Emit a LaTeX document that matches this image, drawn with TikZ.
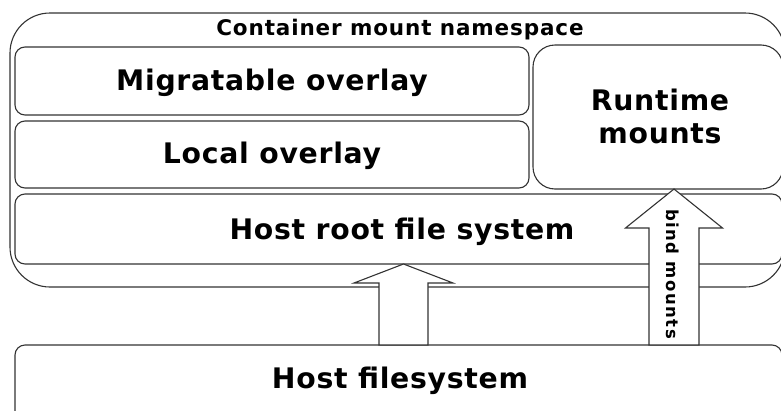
\documentclass[tikz,border=0pt]{standalone}
\usepackage{fontspec}
\setmainfont{DejaVu Sans}
\usetikzlibrary{calc}
\begin{document}
\begin{tikzpicture}[x=1pt,y=-1pt,
  boxline/.style={draw=black!80,line width=1.1pt,fill=white,inner sep=0pt,outer sep=0pt,anchor=north west},
  bigtxt/.style={font=\fontsize{28.3}{33}\selectfont\bfseries\addfontfeature{LetterSpace=2.5},inner sep=0pt,anchor=base,align=center},
  midtxt/.style={font=\fontsize{21.5}{24}\selectfont\bfseries\addfontfeature{LetterSpace=4},inner sep=0pt,anchor=base},
  smalltxt/.style={font=\fontsize{16.5}{18}\selectfont\bfseries\addfontfeature{LetterSpace=9},inner sep=0pt},
  blk/.style={draw=black!80,line width=1.1pt,fill=white,line join=miter}]
\useasboundingbox (0,0) rectangle (781,410);
\clip (0,0) rectangle (781,410);
\fill[white] (0,0) rectangle (781,410);
% container
\node[boxline,rounded corners=40pt,minimum width=775,minimum height=274] (cont) at (10,13) {};
\node[midtxt] (contlbl) at (400,35.5) {Container mount namespace};
% inner boxes
\node[boxline,rounded corners=10pt,minimum width=514,minimum height=68] (mig) at (15,47) {};
\node[boxline,rounded corners=10pt,minimum width=514,minimum height=67] (loc) at (15,121) {};
\node[boxline,rounded corners=22pt,minimum width=250,minimum height=144] (run) at (533,45) {};
\node[boxline,rounded corners=10pt,minimum width=767,minimum height=70] (hroot) at (15,194) {};
\node[boxline,rounded corners=10pt,minimum width=767,minimum height=80] (hfs) at (15,345) {};
% labels
\node[bigtxt] (migl) at (272,90) {Migratable overlay};
\node[bigtxt] (locl) at (272,163) {Local overlay};
\node[bigtxt] (runl) at (660,143) {Runtime\\mounts};
\node[bigtxt] (hrootl) at (402,239) {Host root file system};
\node[bigtxt] (hfsl) at (400,388) {Host filesystem};
% block arrows
\coordinate (ax1) at (403.5,0);
\coordinate (ax2) at (674,0);
\coordinate (tip1) at (hroot.south -| ax1);
\coordinate (bot1) at (hfs.north -| ax1);
\coordinate (tip2) at (run.south -| ax2);
\coordinate (bot2) at (hfs.north -| ax2);
\draw[blk] (tip1) -- ([shift={(49.5,19)}]tip1) -- ([shift={(24.5,19)}]tip1)
  -- ([xshift=24.5]bot1) -- ([xshift=-24.5]bot1) -- ([shift={(-24.5,19)}]tip1)
  -- ([shift={(-49.5,19)}]tip1) -- cycle;
\draw[blk] (tip2) -- ([shift={(48.5,39)}]tip2) -- ([shift={(25,39)}]tip2)
  -- ([xshift=25]bot2) -- ([xshift=-25]bot2) -- ([shift={(-25,39)}]tip2)
  -- ([shift={(-48.5,39)}]tip2) -- cycle;
\node[smalltxt,rotate=-90] (bindl) at (673,274) {bind mounts};
\end{tikzpicture}
\end{document}
